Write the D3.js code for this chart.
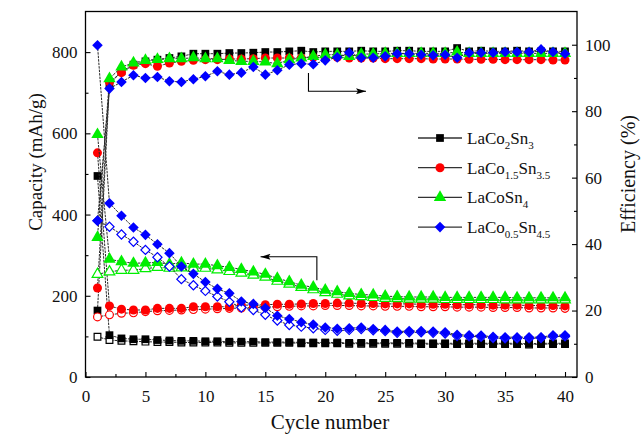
<!DOCTYPE html>
<meta charset="utf-8">
<script src="https://d3js.org/d3.v7.min.js"></script>
<style>
  body { margin: 0; background: #fff; }
  svg text { font-family: "Liberation Serif", "Times New Roman", "DejaVu Serif", serif !important; fill: #111; }
</style>
<div id="chart"></div>
<script>

// cycle numbers (x values)
var cycles = [1,2,3,4,5,6,7,8,9,10,11,12,13,14,15,16,17,18,19,20,
              21,22,23,24,25,26,27,28,29,30,31,32,33,34,35,36,37,38,39,40];

// LaCo2Sn3
var dis_a = [495,103,95,93,93,91,90,89,89,88,88,87,87,87,86,86,86,85,85,85,
             85,84,84,84,84,84,84,83,83,83,83,83,83,83,83,83,82,83,83,83];
var chg_a = [99,91,89,88,87,86,86,85,85,85,85,84,84,84,84,84,84,83,83,83,
             83,82,82,82,82,82,82,81,81,81,81,81,81,81,81,81,80,81,81,81];
var eff_a = [20,88,92,94,95,95.5,96,96.5,97.3,97.3,97.3,97.5,97.5,97.6,97.8,97.8,98,98.2,97.8,98,
             98,98,98.2,98,98,98.2,98.2,98,98,98,99,98,98.2,98,98,98.2,98,98,98,98];

// LaCo1.5Sn3.5
var dis_b = [552,175,167,165,165,169,169,169,173,173,173,173,177,177,178,179,179,180,181,181,
             182,182,181,181,180,180,180,179,179,179,178,178,178,177,177,177,176,176,176,175];
var chg_b = [148,153,157,158,161,163,164,165,166,167,168,169,170,171,172,173,174,175,175,176,
             176,176,175,175,174,174,174,173,173,173,172,172,172,171,171,171,170,170,170,169];
var eff_b = [26.8,88.8,91.6,93.8,94.3,93.5,94.5,95,95.3,95.5,95.5,95.7,95.7,95.8,96,96,96,96,96.2,96.2,
             96.2,96,96,96,95.8,95.8,95.8,95.8,95.7,95.7,95.7,95.6,95.6,95.6,95.5,95.5,95.5,95.5,95.4,95.4];

// LaCoSn4
var dis_c = [597,290,284,280,281,282,278,281,278,278,274,270,265,259,253,243,235,226,221,214,
             210,206,203,202,199,198,197,197,197,196,196,196,196,196,196,195,195,195,195,195];
var chg_c = [253,259,263,263,267,270,268,269,268,268,264,260,256,251,246,236,229,221,215,208,
             204,200,198,196,194,193,192,192,192,191,191,191,191,191,190,190,190,190,190,190];
var eff_c = [42,89.8,93.3,94.5,95.3,95.6,95.8,95.8,96.1,95.8,95.8,95.3,95,95,94.8,94.3,95.5,96,96.5,97,
             97,96.5,97.2,97.2,97.4,97.4,97.4,97.4,97.4,97.4,97.8,97.4,97.4,97.4,97.4,97.4,97.4,97.4,97.4,97.4];

// LaCo0.5Sn4.5
var dis_d = [817,428,397,368,350,327,305,272,254,234,217,206,186,180,170,151,143,135,129,122,
             119,120,122,118,116,112,113,113,112,110,104,103,102,99,98,98,98,98,103,103];
var chg_d = [385,370,351,333,313,295,272,241,226,212,198,185,171,165,153,139,128,124,120,116,
             114,116,118,115,113,109,110,110,109,107,101,100,99,96,95,95,95,96,100,100];
var eff_d = [47,86.8,88.8,90.8,90,90.3,89,88.8,89.6,90.5,92,91,91.6,93.3,91,92.3,94,94.3,94.1,95.3,
             96.2,97.6,96.1,96.1,96.5,97.3,97.3,97,96.8,97,96.1,97.6,97.6,97.6,97.8,97.8,97.8,98.6,97.8,97.3];

// tick values
var xTicks = [0,5,10,15,20,25,30,35,40];
var capTicks = [0,200,400,600,800];
var effTicks = [0,20,40,60,80,100];

// annotation arrows, in data units
var arrowEff = [[18.6, 91.5], [18.6, 86], [23.4, 86]];
var arrowCap = [[19.3, 238], [19.3, 296], [14.6, 296]];

var W = 641, H = 434;
var pLeft = 85.5, pRight = 577, pTop = 11.5, pBottom = 377;
var serif = "'Liberation Serif', 'Times New Roman', serif";

var svg = d3.select("#chart").append("svg")
    .attr("width", W)
    .attr("height", H)
    .attr("font-family", serif);

var x = d3.scaleLinear().domain([0, 41]).range([pLeft, pRight]);
var yCap = d3.scaleLinear().domain([0, 900]).range([pBottom, pTop]);
var yEff = d3.scaleLinear().domain([0, 110]).range([pBottom, pTop]);

var series = [
  {sub: [["LaCo", 0], ["2", 1], ["Sn", 0], ["3", 1]], color: "#000000", type: d3.symbolSquare, rot: 0, size: 60, dis: dis_a, chg: chg_a, eff: eff_a},
  {sub: [["LaCo", 0], ["1.5", 1], ["Sn", 0], ["3.5", 1]], color: "#ff0000", type: d3.symbolCircle, rot: 0, size: 64, dis: dis_b, chg: chg_b, eff: eff_b},
  {sub: [["LaCoSn", 0], ["4", 1]], color: "#00ee00", type: d3.symbolTriangle, rot: 0, size: 66, dis: dis_c, chg: chg_c, eff: eff_c},
  {sub: [["LaCo", 0], ["0.5", 1], ["Sn", 0], ["4.5", 1]], color: "#0000ff", type: d3.symbolSquare, rot: 45, size: 56, dis: dis_d, chg: chg_d, eff: eff_d}
];

// axes (ticks point inward)
function noDomain(g) { g.select(".domain").remove(); g.attr("font-family", serif); }

svg.append("g")
    .attr("transform", "translate(0," + pBottom + ")")
    .call(d3.axisBottom(x).tickValues(xTicks).tickSize(-5).tickPadding(13))
    .call(noDomain);
svg.append("g")
    .attr("transform", "translate(0," + pBottom + ")")
    .call(d3.axisBottom(x).tickValues([2.5,7.5,12.5,17.5,22.5,27.5,32.5,37.5]).tickSize(-3).tickFormat(""))
    .call(noDomain);

svg.append("g")
    .attr("transform", "translate(" + pLeft + ",0)")
    .call(d3.axisLeft(yCap).tickValues(capTicks).tickSize(-5).tickPadding(8))
    .call(noDomain);
svg.append("g")
    .attr("transform", "translate(" + pLeft + ",0)")
    .call(d3.axisLeft(yCap).tickValues([100,300,500,700]).tickSize(-3).tickFormat(""))
    .call(noDomain);

svg.append("g")
    .attr("transform", "translate(" + pRight + ",0)")
    .call(d3.axisRight(yEff).tickValues(effTicks).tickSize(-5).tickPadding(8))
    .call(noDomain);
svg.append("g")
    .attr("transform", "translate(" + pRight + ",0)")
    .call(d3.axisRight(yEff).tickValues([10,30,50,70,90]).tickSize(-3).tickFormat(""))
    .call(noDomain);

svg.selectAll(".tick text").style("font-size", "17px").attr("fill", "#111");
svg.selectAll(".tick line").attr("stroke", "#000").attr("stroke-width", 1.1);

// frame
svg.append("rect")
    .attr("x", pLeft).attr("y", pTop)
    .attr("width", pRight - pLeft).attr("height", pBottom - pTop)
    .attr("fill", "none").attr("stroke", "#000").attr("stroke-width", 1.3);

// data
var plot = svg.append("g");

function drawSet(s, vals, yScale, open) {
  var pts = cycles.map(function(c, i) { return [c, vals[i]]; });
  plot.append("path")
      .datum(pts)
      .attr("fill", "none")
      .attr("stroke", "#2a2a2a")
      .attr("stroke-width", 1)
      .attr("stroke-dasharray", "2.5,1")
      .attr("d", d3.line().x(function(d) { return x(d[0]); }).y(function(d) { return yScale(d[1]); }));
  plot.append("g").selectAll("path")
      .data(pts)
      .enter().append("path")
      .attr("transform", function(d) { return "translate(" + x(d[0]) + "," + yScale(d[1]) + ") rotate(" + s.rot + ")"; })
      .attr("d", d3.symbol().type(s.type).size(open ? s.size * 0.75 : s.size))
      .attr("fill", open ? "#fff" : s.color)
      .attr("stroke", open ? s.color : "none")
      .attr("stroke-width", 1.2);
}

series.forEach(function(s) {
  drawSet(s, s.chg, yCap, true);
  drawSet(s, s.dis, yCap, false);
  drawSet(s, s.eff, yEff, false);
});

// arrows
svg.append("defs").append("marker")
    .attr("id", "head")
    .attr("viewBox", "0 0 10 6")
    .attr("refX", 10).attr("refY", 3)
    .attr("markerWidth", 10).attr("markerHeight", 6)
    .attr("markerUnits", "userSpaceOnUse")
    .attr("orient", "auto")
  .append("path")
    .attr("d", "M0,0 L10,3 L0,6 L2,3 Z")
    .attr("fill", "#000");

svg.append("path")
    .attr("d", d3.line()(arrowEff.map(function(p) { return [x(p[0]), yEff(p[1])]; })))
    .attr("fill", "none").attr("stroke", "#000").attr("stroke-width", 1.1)
    .attr("marker-end", "url(#head)");
svg.append("path")
    .attr("d", d3.line()(arrowCap.map(function(p) { return [x(p[0]), yCap(p[1])]; })))
    .attr("fill", "none").attr("stroke", "#000").attr("stroke-width", 1.1)
    .attr("marker-end", "url(#head)");

// legend
var legend = svg.append("g").attr("transform", "translate(418,138)");
series.forEach(function(s, i) {
  var row = legend.append("g").attr("transform", "translate(0," + (i * 29.7) + ")");
  row.append("line").attr("x1", 0).attr("x2", 44).attr("y1", 0).attr("y2", 0)
      .attr("stroke", "#333").attr("stroke-width", 1.3);
  row.append("path")
      .attr("transform", "translate(22,0) rotate(" + s.rot + ")")
      .attr("d", d3.symbol().type(s.type).size(s.size))
      .attr("fill", s.color);
  var t = row.append("text").attr("x", 49).attr("y", 6).style("font-size", "17px");
  s.sub.forEach(function(p) {
    var ts = t.append("tspan").text(p[0]);
    if (p[1]) ts.attr("dy", 5).style("font-size", "11px");
    else ts.attr("dy", t.selectAll("tspan").size() > 1 ? -5 : 0);
  });
});

// axis titles
svg.append("text")
    .attr("transform", "translate(42,162) rotate(-90)")
    .attr("text-anchor", "middle")
    .style("font-size", "19px")
    .text("Capacity (mAh/g)");
svg.append("text")
    .attr("transform", "translate(635,174) rotate(-90)")
    .attr("text-anchor", "middle")
    .style("font-size", "20px")
    .text("Efficiency (%)");
svg.append("text")
    .attr("x", 330).attr("y", 429)
    .attr("text-anchor", "middle")
    .style("font-size", "21px")
    .text("Cycle number");

</script>
